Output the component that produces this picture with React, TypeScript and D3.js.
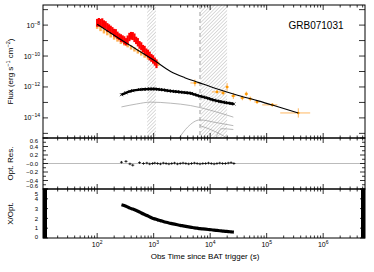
import * as d3 from 'd3'

// BAT light curve (red): log10 time, log10 flux, log error
const batLogT = [2.00, 2.03, 2.06, 2.09, 2.12, 2.15, 2.18, 2.21, 2.24, 2.27, 2.30, 2.33, 2.36, 2.39, 2.42, 2.45, 2.48, 2.51, 2.54, 2.57, 2.60, 2.63, 2.66, 2.69, 2.72, 2.75, 2.78, 2.81, 2.84, 2.87, 2.90, 2.93, 2.96, 2.99, 3.02, 3.05]
const batLogF = [-7.85, -7.82, -7.84, -7.86, -7.95, -8.00, -8.15, -8.19, -8.30, -8.35, -8.49, -8.53, -8.66, -8.75, -8.84, -8.89, -8.98, -9.08, -8.95, -8.77, -8.69, -8.71, -8.82, -8.99, -9.11, -9.28, -9.37, -9.52, -9.61, -9.76, -9.85, -10.00, -10.12, -10.22, -10.36, -10.50]
const batLogErr = [0.25, 0.28, 0.24, 0.3, 0.26, 0.25, 0.28, 0.24, 0.26, 0.22, 0.25, 0.27, 0.24, 0.22, 0.25, 0.23, 0.26, 0.24, 0.28, 0.27, 0.25, 0.26, 0.28, 0.24, 0.27, 0.25, 0.26, 0.24, 0.27, 0.25, 0.26, 0.28, 0.25, 0.27, 0.26, 0.28]

// BAT, second band (orange)
const bat2LogT = [2.00, 2.06, 2.12, 2.18, 2.24, 2.30, 2.36, 2.42, 2.48, 2.54, 2.60, 2.66, 2.72, 2.78, 2.84, 2.90, 2.96, 3.02, 3.08]
const bat2LogF = [-8.10, -8.25, -8.40, -8.52, -8.66, -8.80, -8.93, -9.08, -9.18, -9.30, -9.44, -9.57, -9.70, -9.83, -9.97, -10.10, -10.22, -10.36, -10.50]

// XRT points (orange)
const xrtLogT = [3.73, 4.12, 4.23, 4.30, 4.41, 4.57, 4.64, 4.71, 4.83, 5.10, 5.56]
const xrtLogTLo = [3.65, 4.03, 4.19, 4.27, 4.37, 4.53, 4.61, 4.67, 4.78, 4.92, 5.24]
const xrtLogTHi = [3.82, 4.23, 4.27, 4.33, 4.45, 4.61, 4.67, 4.75, 4.88, 5.19, 5.77]
const xrtLogF = [-11.74, -12.32, -12.39, -12.00, -12.58, -12.71, -12.45, -12.77, -12.97, -13.16, -13.68]
const xrtLogErr = [0.22, 0.1, 0.15, 0.25, 0.2, 0.15, 0.15, 0.15, 0.12, 0.12, 0.3]

// fitted X-ray model
const modelLogT = [2.0, 2.5, 3.0, 3.3, 3.55, 3.8, 4.1, 4.5, 4.85, 5.2, 5.56]
const modelLogF = [-7.95, -9.13, -10.26, -11.0, -11.4, -11.72, -12.1, -12.55, -12.9, -13.28, -13.68]

// optical data, residuals and X/Opt ratio
const optLogT = [2.43, 2.51, 2.58, 2.63, 2.75, 2.82, 2.88, 2.93, 2.98, 3.02, 3.07, 3.12, 3.17, 3.22, 3.27, 3.32, 3.37, 3.42, 3.47, 3.52, 3.57, 3.62, 3.67, 3.72, 3.77, 3.82, 3.87, 3.92, 3.97, 4.02, 4.07, 4.12, 4.17, 4.22, 4.27, 4.32, 4.37, 4.42]
const optLogF = [-12.50, -12.38, -12.29, -12.24, -12.17, -12.15, -12.14, -12.13, -12.13, -12.13, -12.15, -12.17, -12.19, -12.22, -12.25, -12.27, -12.29, -12.31, -12.33, -12.35, -12.37, -12.39, -12.42, -12.48, -12.54, -12.59, -12.64, -12.69, -12.74, -12.80, -12.85, -12.90, -12.94, -12.97, -13.01, -13.04, -13.07, -13.10]
const optRes = [0.03, 0.05, -0.01, -0.04, 0.02, 0.0, 0.01, -0.01, 0.0, 0.01, 0.0, -0.01, 0.01, 0.0, -0.01, 0.0, 0.01, -0.01, 0.0, 0.01, 0.0, -0.01, 0.0, 0.01, 0.0, -0.01, 0.0, 0.0, 0.01, 0.0, -0.01, 0.0, 0.01, 0.0, 0.0, 0.01, 0.02, 0.0]
const optRatio = [3.40, 3.25, 3.05, 2.95, 2.65, 2.45, 2.30, 2.15, 2.02, 1.95, 1.85, 1.77, 1.68, 1.60, 1.53, 1.47, 1.41, 1.35, 1.29, 1.24, 1.19, 1.14, 1.09, 1.04, 1.00, 0.96, 0.93, 0.90, 0.87, 0.84, 0.80, 0.77, 0.74, 0.71, 0.68, 0.66, 0.63, 0.60]

// grey model components
const compALogT = [2.43, 2.7, 2.95, 3.3, 3.65, 4.0, 4.41]
const compALogF = [-13.29, -13.1, -12.98, -13.05, -13.2, -13.5, -13.95]
const compBLogT = [3.45, 3.6, 3.82, 4.1, 4.41]
const compBLogF = [-15.3, -14.6, -14.13, -14.3, -14.5]
const compCLogT = [4.1, 4.2, 4.41]
const compCLogF = [-15.3, -14.7, -14.75]
const compDLogT = [3.82, 4.1, 4.3]
const compDLogF = [-14.5, -14.9, -15.3]

// hatched gaps and dashed line
const bands = [[2.885, 3.04], [3.83, 4.30]]
const dashedLogT = 3.82

const xDecades = [2, 3, 4, 5, 6]
const yMainDecades = [-15, -14, -13, -12, -11, -10, -9, -8, -7]
const yMainLabels = [-14, -12, -10, -8]
const resTicks = [0.6, 0.4, 0.2, 0.0, -0.2, -0.4, -0.6]
const resLabels = ['0.6', '0.4', '0.2', '\u22120.0', '\u22120.2', '\u22120.4', '\u22120.6']
const ratioTicks = [0, 1, 2, 3, 4, 5]

export default function App() {
  const W = 374, H = 272
  const L = 43, R = 365
  const mainTop = 5, mainBot = 138, resBot = 189, ratBot = 238
  const font = 'Liberation Sans, Arial, sans-serif'

  const x = d3.scaleLog().domain([11, 5.5e6]).range([L, R])
  const yM = d3.scaleLog().domain([10 ** -15.3, 10 ** -6.7]).range([mainBot, mainTop])
  const yR = d3.scaleLinear().domain([-0.6, 0.6]).range([resBot, mainBot])
  const yQ = d3.scaleLinear().domain([0, 5]).range([ratBot, resBot])
  const lx = (v: number) => x(10 ** v)
  const ly = (v: number) => yM(10 ** v)

  const line = (ts: number[], fs: number[]) =>
    d3.line<number>().x((_, i) => lx(ts[i])).y((_, i) => ly(fs[i])).curve(d3.curveMonotoneX)(ts) || ''

  const clipLine = (ts: number[], fs: number[]) =>
    d3.line<number>().x((_, i) => lx(ts[i])).y((_, i) => Math.min(mainBot, ly(fs[i]))).curve(d3.curveMonotoneX)(ts) || ''

  // minor ticks on x
  const xMinor: number[] = []
  for (let d = 1; d <= 6; d++) for (let k = 2; k <= 9; k++) {
    const v = k * 10 ** d
    if (v > 11 && v < 5.5e6) xMinor.push(v)
  }
  const xMajor = xDecades.map(d => 10 ** d)

  const xTicks = (yEdge: number, dir: number, key: string) => (
    <g key={key} stroke="#000" strokeWidth={0.8}>
      {xMajor.map(v => <line key={'M' + v} x1={x(v)} x2={x(v)} y1={yEdge} y2={yEdge + dir * 5} />)}
      {xMinor.map(v => <line key={'m' + v} x1={x(v)} x2={x(v)} y1={yEdge} y2={yEdge + dir * 2.5} />)}
    </g>
  )

  const resMinor = d3.range(-6, 7).map(i => i / 10)

  return (
    <svg width={W} height={H} style={{ position: 'absolute', left: 0, top: 0, background: '#fff' }} fontFamily={font}>
      <defs>
        <pattern id="hatch" width={2.5} height={2.5} patternUnits="userSpaceOnUse" patternTransform="rotate(45)">
          <line x1={0} y1={0} x2={0} y2={2.5} stroke="#999" strokeWidth={0.7} />
        </pattern>
        <clipPath id="mainClip"><rect x={L} y={mainTop} width={R - L} height={mainBot - mainTop} /></clipPath>
      </defs>

      {/* hatched bands */}
      {bands.map((b, i) => (
        <rect key={i} x={lx(b[0])} y={mainTop} width={lx(b[1]) - lx(b[0])} height={mainBot - mainTop} fill="url(#hatch)" />
      ))}
      <line x1={lx(dashedLogT)} x2={lx(dashedLogT)} y1={mainTop} y2={mainBot} stroke="#888" strokeWidth={0.8} strokeDasharray="4,3" />

      <g clipPath="url(#mainClip)">
        {/* grey components */}
        {[[compALogT, compALogF], [compBLogT, compBLogF], [compCLogT, compCLogF], [compDLogT, compDLogF]].map((c, i) => (
          <path key={i} d={clipLine(c[0], c[1])} fill="none" stroke="#999" strokeWidth={0.7} />
        ))}

        {/* BAT second band */}
        {bat2LogT.map((t, i) => (
          <line key={'o' + i} stroke="#ffb050" strokeWidth={2.5}
            x1={lx(t)} x2={lx(t)} y1={ly(bat2LogF[i] - 0.14)} y2={ly(bat2LogF[i] + 0.14)} />
        ))}
        {/* BAT red */}
        {batLogT.map((t, i) => (
          <line key={'r' + i} stroke="#ff0000" strokeWidth={2.2}
            x1={lx(t)} x2={lx(t)} y1={ly(batLogF[i] - batLogErr[i])} y2={ly(batLogF[i] + batLogErr[i])} />
        ))}

        {/* XRT */}
        {xrtLogT.map((t, i) => (
          <g key={'x' + i} stroke="#ffb050" strokeWidth={0.9}>
            <line x1={lx(xrtLogTLo[i])} x2={lx(xrtLogTHi[i])} y1={ly(xrtLogF[i])} y2={ly(xrtLogF[i])} />
            <line x1={lx(t)} x2={lx(t)} y1={ly(xrtLogF[i] - xrtLogErr[i])} y2={ly(xrtLogF[i] + xrtLogErr[i])} />
            <circle cx={lx(t)} cy={ly(xrtLogF[i])} r={1.3} fill="#f90" stroke="none" />
          </g>
        ))}

        {/* model */}
        <path d={line(modelLogT, modelLogF)} fill="none" stroke="#000" strokeWidth={1.1} />

        {/* optical */}
        <path d={line(optLogT, optLogF)} fill="none" stroke="#000" strokeWidth={2.4} />
        {optLogT.map((t, i) => (
          <g key={'p' + i} stroke="#000" strokeWidth={0.8}>
            <line x1={lx(t) - 1.5} x2={lx(t) + 1.5} y1={ly(optLogF[i]) - 1.5} y2={ly(optLogF[i]) + 1.5} />
            <line x1={lx(t) - 1.5} x2={lx(t) + 1.5} y1={ly(optLogF[i]) + 1.5} y2={ly(optLogF[i]) - 1.5} />
          </g>
        ))}
      </g>

      <text x={316} y={29} fontSize={10} textAnchor="middle" fill="#000">GRB071031</text>

      {/* residual panel */}
      <line x1={L} x2={R} y1={yR(0)} y2={yR(0)} stroke="#bbb" strokeWidth={1} />
      {optLogT.map((t, i) => (
        <g key={'s' + i} stroke="#000" strokeWidth={0.8}>
          <line x1={lx(t) - 1.5} x2={lx(t) + 1.5} y1={yR(optRes[i])} y2={yR(optRes[i])} />
          <line x1={lx(t)} x2={lx(t)} y1={yR(optRes[i] - 0.03)} y2={yR(optRes[i] + 0.03)} />
        </g>
      ))}

      {/* ratio panel */}
      <path
        d={d3.line<number>().x((_, i) => lx(optLogT[i])).y((_, i) => yQ(optRatio[i])).curve(d3.curveMonotoneX)(optLogT) || ''}
        fill="none" stroke="#000" strokeWidth={3.2} />

      {/* frames */}
      <g fill="none" stroke="#000" strokeWidth={1}>
        <rect x={L} y={mainTop} width={R - L} height={mainBot - mainTop} />
        <rect x={L} y={mainBot} width={R - L} height={resBot - mainBot} />
        <rect x={L} y={resBot} width={R - L} height={ratBot - resBot} />
      </g>
      <line x1={L + 2} x2={L + 2} y1={resBot} y2={ratBot} stroke="#000" strokeWidth={4} />
      <line x1={R - 2} x2={R - 2} y1={resBot} y2={ratBot} stroke="#000" strokeWidth={4} />

      {/* x ticks */}
      {xTicks(mainTop, 1, 't1')}
      {xTicks(mainBot, -1, 't2')}
      {xTicks(mainBot, 1, 't3')}
      {xTicks(resBot, -1, 't4')}
      {xTicks(resBot, 1, 't5')}
      {xTicks(ratBot, -1, 't6')}

      {/* y ticks */}
      <g stroke="#000" strokeWidth={0.8}>
        {yMainDecades.map(d => (
          <g key={d}>
            <line x1={L} x2={L + 5} y1={ly(d)} y2={ly(d)} />
            <line x1={R} x2={R - 6} y1={ly(d)} y2={ly(d)} />
          </g>
        ))}
        {resMinor.map(v => (
          <g key={'rm' + v}>
            <line x1={L} x2={L + (Math.round(v * 10) % 2 === 0 ? 5 : 3)} y1={yR(v)} y2={yR(v)} />
            <line x1={R} x2={R - (Math.round(v * 10) % 2 === 0 ? 5 : 3)} y1={yR(v)} y2={yR(v)} />
          </g>
        ))}
        {ratioTicks.map(v => (
          <g key={'q' + v}>
            <line x1={L} x2={L + 5} y1={yQ(v)} y2={yQ(v)} />
            <line x1={R} x2={R - 5} y1={yQ(v)} y2={yQ(v)} />
          </g>
        ))}
      </g>

      {/* y labels */}
      <g fontSize={7} fill="#000" textAnchor="end">
        {yMainLabels.map(d => (
          <text key={d} x={40} y={ly(d) + 2.5}>
            10<tspan dy={-3} fontSize={5}>{'\u2212' + Math.abs(d)}</tspan>
          </text>
        ))}
      </g>
      <g fontSize={6} fill="#000" textAnchor="end">
        {resTicks.map((v, i) => (
          <text key={'rl' + v} x={38} y={yR(v) + (i === 0 ? 4.5 : i === resTicks.length - 1 ? -1 : 2.1)}>{resLabels[i]}</text>
        ))}
        {ratioTicks.map(v => (
          <text key={'ql' + v} x={38} y={yQ(v) + (v === 5 ? 6.5 : v === 0 ? 0.5 : 2.1)}>{v}</text>
        ))}
      </g>

      {/* x labels */}
      <g fontSize={7} fill="#000" textAnchor="middle">
        {xDecades.map(d => (
          <text key={d} x={x(10 ** d)} y={247}>
            10<tspan dy={-3} fontSize={5}>{d}</tspan>
          </text>
        ))}
      </g>
      <text x={205} y={259} fontSize={8} textAnchor="middle" fill="#000">Obs Time since BAT trigger (s)</text>

      {/* axis titles */}
      <text transform={`translate(13,${(mainTop + mainBot) / 2}) rotate(-90)`} fontSize={8} textAnchor="middle" fill="#000">
        Flux (erg s<tspan dy={-3} fontSize={5.5}>{'\u22121'}</tspan><tspan dy={3}> cm</tspan><tspan dy={-3} fontSize={5.5}>{'\u22122'}</tspan><tspan dy={3}>)</tspan>
      </text>
      <text transform={`translate(13,${(mainBot + resBot) / 2}) rotate(-90)`} fontSize={8} textAnchor="middle" fill="#000">Opt. Res.</text>
      <text transform={`translate(13,${(resBot + ratBot) / 2}) rotate(-90)`} fontSize={8} textAnchor="middle" fill="#000">X/Opt.</text>
    </svg>
  )
}
